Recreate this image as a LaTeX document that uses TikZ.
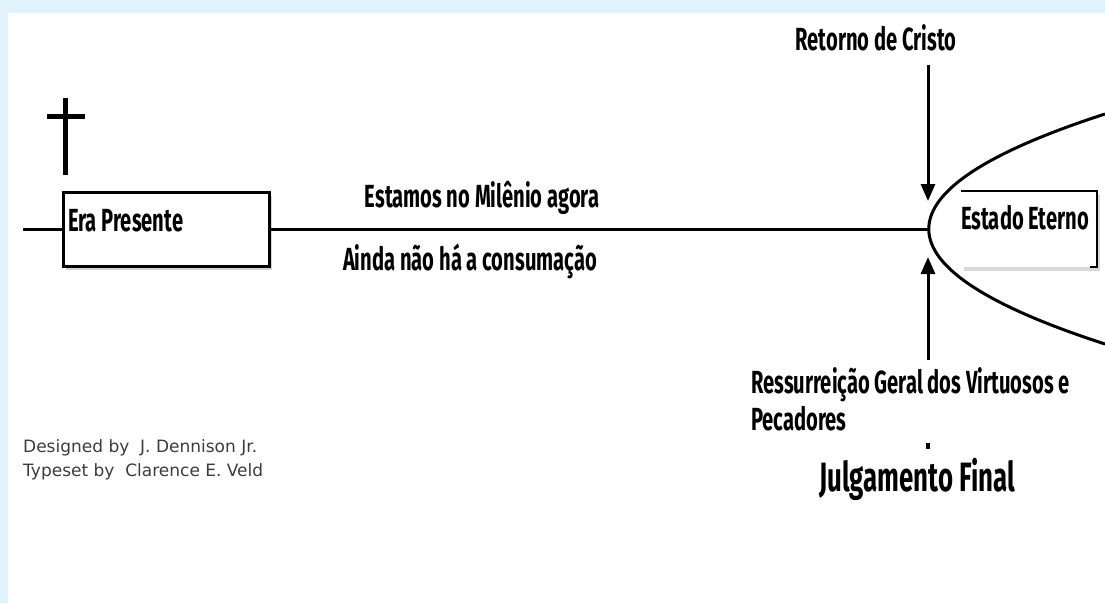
\documentclass[tikz,border=0pt]{standalone}
\usepackage{fontspec}
\newfontfamily\agency{Fira Sans}[FakeStretch=0.63]
\newfontfamily\credfont{DejaVu Sans}
\usetikzlibrary{arrows.meta,shadows}
\definecolor{pagebg}{HTML}{E0F2FB}
\definecolor{credgray}{HTML}{3C3C3C}
\tikzset{
  lbl/.style={inner sep=0pt, font=\agency\bfseries\fontsize{32}{37}\selectfont},
  credit/.style={inner sep=0pt, text=credgray, align=left, font=\credfont\fontsize{17}{23.5}\selectfont},
  eraline/.style={line width=3pt},
  erabox/.style={draw, line width=3pt, fill=white, minimum width=206pt, minimum height=74pt,
    drop shadow={shadow xshift=3pt, shadow yshift=-4pt, opacity=0.35}},
  eternobox/.style={fill=white, minimum width=136pt, minimum height=76pt,
    drop shadow={shadow xshift=3pt, shadow yshift=-4pt, opacity=0.3}},
  arr/.style={line width=3pt, -{Triangle[length=17pt,width=14pt]}}
}
\begin{document}
\begin{tikzpicture}[x=1pt,y=-1pt]
    \fill[pagebg] (0,0) rectangle (1105,603);
    \fill[white] (8,13) rectangle (1105,603);
    \useasboundingbox (0,0) rectangle (1105,603);

    % cruz
    \draw[line width=5pt] (65,98) -- (65,175);
    \draw[line width=5pt] (47,116) -- (85,116);

    \coordinate (start) at (23,229);
    \coordinate (apex) at (928,229);
    \node[erabox] (era) at (166,229) {};
    \node[lbl, anchor=base west] (eratxt) at (68,231) {Era Presente};
    \draw[eraline] (start) -- (era.west);
    \draw[eraline] (era.east) -- (apex);

    \node[lbl, anchor=base] (agora) at (482,207) {Estamos no Milênio agora};
    \node[lbl, anchor=base] (ainda) at (470,270) {Ainda não há a consumação};

    % estado eterno
    \draw[eraline] (1105,114) .. controls (870,190) and (870,268) .. (1105,344);
    \node[eternobox] (eterno) at (1029,229) {};
    \draw[line width=2.5pt] (eterno.north west) -- (eterno.north east) -- (eterno.south east) -- ++(-7,0);
    \node[lbl, anchor=base west] (eternotxt) at (961,229) {Estado Eterno};

    \node[lbl, anchor=base] (retorno) at (876,50) {Retorno de Cristo};
    \coordinate (rtail) at (928,65);
    \coordinate (rtip) at (928,201);
    \draw[arr] (rtail) -- (rtip);

    \coordinate (rstail) at (928,360);
    \coordinate (rstip) at (928,257);
    \draw[arr] (rstail) -- (rstip);
    \node[lbl, anchor=base west, align=left] (ressur) at (751,430) {Ressurreição Geral dos Virtuosos e\\Pecadores};

    \fill (926,443) rectangle (930,449);
    \node[lbl, anchor=base, font=\agency\bfseries\fontsize{41}{44}\selectfont] (juizo) at (917,491) {Julgamento Final};

    \node[credit, anchor=base west] (credits) at (23,476) {Designed by\ \ J. Dennison Jr.\\Typeset by\ \ Clarence E. Veld};
\end{tikzpicture}
\end{document}
